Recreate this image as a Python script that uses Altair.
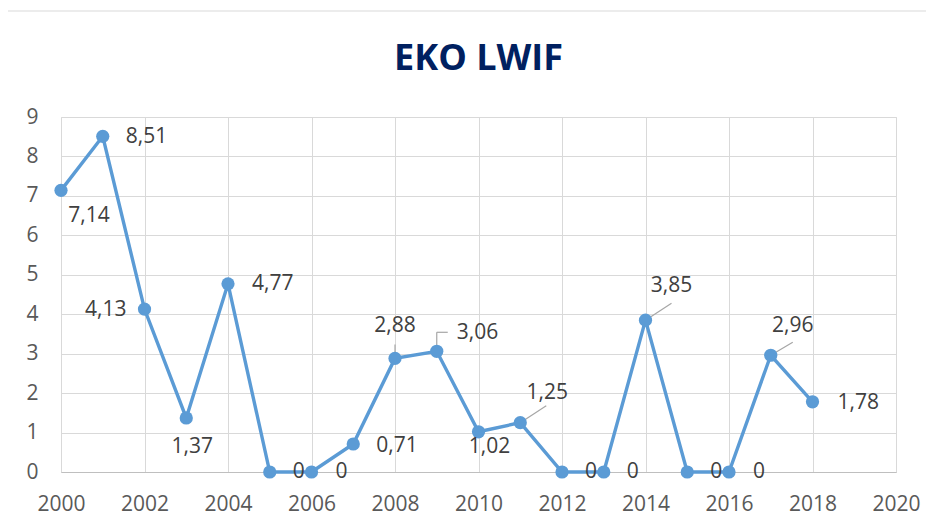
import altair as alt
import pandas as pd

# ---- data ----
years = [2000, 2001, 2002, 2003, 2004, 2005, 2006, 2007, 2008, 2009,
         2010, 2011, 2012, 2013, 2014, 2015, 2016, 2017, 2018]
values = [7.14, 8.51, 4.13, 1.37, 4.77, 0, 0, 0.71, 2.88, 3.06,
          1.02, 1.25, 0, 0, 3.85, 0, 0, 2.96, 1.78]
x_ticks = list(range(2000, 2021, 2))
y_ticks = list(range(0, 10))
title_text = "EKO LWIF"

labels = ["0" if v == 0 else f"{v:.2f}".replace(".", ",") for v in values]
df = pd.DataFrame({"year": years, "value": values, "label": labels})

# ---- label placement (pixel offsets from the point, alignment) ----
label_style = {
    2000: (28, 26, "center"), 2001: (23, 1, "left"), 2002: (-18, 1, "right"),
    2003: (6, 29, "center"), 2004: (24, 0, "left"), 2005: (23, 0, "left"),
    2006: (24, 0, "left"), 2007: (23, 2, "left"), 2008: (0, -32, "center"),
    2009: (20, -18, "left"), 2010: (11, 15, "center"), 2011: (27, -30, "center"),
    2012: (23, 0, "left"), 2013: (23, 0, "left"), 2014: (26, -34, "center"),
    2015: (23, 0, "left"), 2016: (24, 0, "left"), 2017: (22, -29, "center"),
    2018: (25, 1, "left"),
}
# leader line segments: (year, dx1, dy1, dx2, dy2)
leaders = [
    (2008, 0, 0, 0, -14),
    (2009, 0, 0, 0, -19), (2009, 0, -19, 11, -19),
    (2011, 0, 0, 26, -17),
    (2014, 0, 0, 26, -17),
    (2017, 0, 0, 22, -13),
]

W, H = 835, 355
LINE_COLOR = "#5B9BD5"
TEXT_COLOR = "#404040"
AXIS_TEXT = "#595959"
FONT = "Open Sans"
FS = 21

X = alt.X("year:Q",
          scale=alt.Scale(domain=[2000, 2020], nice=False, zero=False),
          axis=alt.Axis(values=x_ticks, format="d", title=None, grid=True,
                        gridColor="#d9d9d9", gridWidth=1, ticks=False,
                        domain=True, domainColor="#bfbfbf", domainWidth=1.2,
                        labelFont=FONT, labelFontSize=FS, labelColor=AXIS_TEXT,
                        labelPadding=21, labelFlush=False))
Y = alt.Y("value:Q",
          scale=alt.Scale(domain=[0, 9], nice=False),
          axis=alt.Axis(values=y_ticks, title=None, grid=True,
                        gridColor="#d9d9d9", gridWidth=1, ticks=False,
                        domain=False, labelFont=FONT, labelFontSize=FS,
                        labelColor=AXIS_TEXT, labelPadding=23))

base = alt.Chart(df)

frame = alt.Chart(pd.DataFrame({"a": [0]})).mark_rect(
    fillOpacity=0, stroke="#d9d9d9", strokeWidth=1.2
).encode(x=alt.value(-54), x2=alt.value(W + 200),
         y=alt.value(-106), y2=alt.value(H + 200))

layers = [frame]

for (yr, dx1, dy1, dx2, dy2) in leaders:
    layers.append(
        base.transform_filter(alt.datum.year == yr).mark_rule(
            color="#a6a6a6", strokeWidth=1.2,
            xOffset=dx1, yOffset=dy1, x2Offset=dx2, y2Offset=dy2
        ).encode(x=X, y=Y, x2="year:Q", y2="value:Q")
    )

line = base.mark_line(color=LINE_COLOR, strokeWidth=3.4).encode(x=X, y=Y)
points = base.mark_point(filled=True, color=LINE_COLOR, size=175, opacity=1).encode(x=X, y=Y)
layers += [line, points]

for yr in years:
    dx, dy, al = label_style[yr]
    layers.append(
        base.transform_filter(alt.datum.year == yr).mark_text(
            dx=dx, dy=dy, align=al, baseline="middle",
            font=FONT, fontSize=FS, color=TEXT_COLOR
        ).encode(x=X, y=Y, text="label:N")
    )

chart = alt.layer(*layers).properties(
    width=W, height=H,
    title=alt.TitleParams(title_text, font=FONT, fontSize=36, fontWeight="bold",
                          color="#002060", anchor="middle", frame="group",
                          baseline="alphabetic", offset=-96),
    autosize=alt.AutoSizeParams(type="none"),
    padding={"left": 53, "top": 109, "right": 30, "bottom": 47},
).configure_view(stroke=None).configure(background="white")

chart.save("out.html", embed_options={"renderer": "svg", "actions": False})
